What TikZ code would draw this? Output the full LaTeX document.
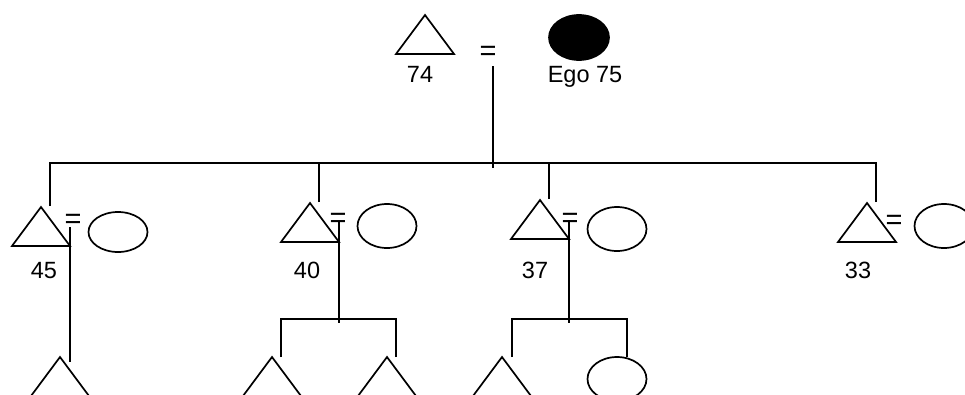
\documentclass[tikz,border=0pt]{standalone}
\usepackage{fontspec}
\setmainfont{Liberation Sans}
\usetikzlibrary{calc,shapes.geometric}
\tikzset{
	male/.style={draw, isosceles triangle, shape border rotate=90, isosceles triangle stretches, minimum width=58pt, minimum height=39pt, inner sep=0pt, outer sep=0pt, anchor=apex},
	female/.style={draw, ellipse, minimum width=59pt, minimum height=44pt, inner sep=0pt, outer sep=0pt},
	lbl/.style={anchor=base, inner sep=0pt, font=\fontsize{23.5}{28}\selectfont},
	eqsign/.style={inner sep=0pt, yshift=-3pt, font=\fontsize{29}{34}\selectfont}
}

\begin{document}
\begin{tikzpicture}[x=1pt, y=-1pt, line width=1.7pt]
			\useasboundingbox (0,0) rectangle (965,394);
			\clip (0,0) rectangle (965,394);
			%%%%% START %%%%%
			
			\node[male] (t74) at (425,15) {};
			\node[eqsign] (eq74) at (488,50) {=};
			\node[female, fill=black, minimum width=60pt, minimum height=45pt] (ego) at (579,37.5) {};
			\node[lbl] (l74) at (420,82) {74};
			\node[lbl] (lego) at (585,82) {Ego 75};
			\coordinate (m74) at (493,66);
			\coordinate (sib) at (493,163);
			\coordinate (bar3) at (0,319);
			
			\node[male] (t45) at (41,207) {};
			\node[male] (t40) at (310,203) {};
			\node[male] (t37) at (540,200) {};
			\node[male] (t33) at (867,203) {};
			
			\node[eqsign] (eq45) at (73,218) {=};
			\node[eqsign] (eq40) at (338,217) {=};
			\node[eqsign] (eq37) at (570,217) {=};
			\node[eqsign] (eq33) at (894,219) {=};
			
			\node[female, minimum height=40pt] (w45) at (118,232) {};
			\node[female] (w40) at (387,226) {};
			\node[female] (w37) at (617,229) {};
			\node[female] (w33) at (944,226) {};
			
			\node[lbl] (l45) at (44,278) {45};
			\node[lbl] (l40) at (307,278) {40};
			\node[lbl] (l37) at (535,278) {37};
			\node[lbl] (l33) at (858,278) {33};
			
			\node[male] (c45) at (60,357) {};
			\node[male] (c40a) at (272,357) {};
			\node[male] (c40b) at (387,357) {};
			\node[male] (c37a) at (502,357) {};
			\node[female] (c37b) at (617,379) {};
			
			% siblings
			\draw (m74) -- ($(sib)+(0,5)$);
			\foreach \t in {t45,t40,t37,t33}
				\draw ($(\t.apex)+(9,-1)$) |- (sib);
			
			% 45
			\draw ($(t45.right corner)+(0,-19)$) -- ($(t45.right corner |- c45.apex)+(0,5)$);
			
			% 40
			\coordinate (f40) at (t40.right corner |- bar3);
			\draw ($(t40.right corner)+(0,-21)$) -- ($(f40)+(0,4)$);
			\draw ($(c40a.apex)+(9,0)$) |- (f40);
			\draw ($(c40b.apex)+(9,0)$) |- (f40);
			
			% 37
			\coordinate (f37) at (t37.right corner |- bar3);
			\draw ($(t37.right corner)+(0,-19)$) -- ($(f37)+(0,4)$);
			\draw ($(c37a.apex)+(10,0)$) |- (f37);
			\draw ($(c37b.north)+(10,0)$) |- (f37);
			
			%%%%% END %%%%%
\end{tikzpicture}
\end{document}
